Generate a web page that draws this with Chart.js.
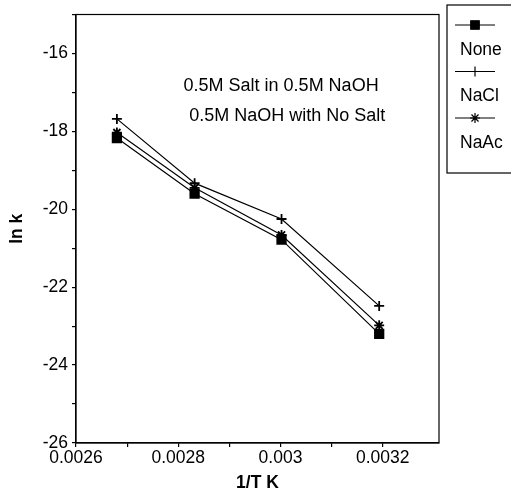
<!DOCTYPE html>
<html>
<head>
<meta charset="utf-8">
<script src="https://cdn.jsdelivr.net/npm/chart.js@4/dist/chart.umd.min.js"></script>
<style>
html,body{margin:0;padding:0;background:#fff;}
#wrap{width:511px;height:497px;position:relative;}
</style>
</head>
<body>
<div id="wrap"><canvas id="c" width="511" height="497"></canvas></div>
<script>
// Data
const invT = [0.00268, 0.002832, 0.003002, 0.003193];
const noneLnK = [-18.17, -19.6, -20.78, -23.2];
const naclLnK = [-17.68, -19.33, -20.25, -22.48];
const naacLnK = [-18.03, -19.45, -20.66, -22.98];
const seriesNames = ['None', 'NaCl', 'NaAc'];
const xTickValues = [0.0026, 0.0027, 0.0028, 0.0029, 0.003, 0.0031, 0.0032];
const xTickLabels = ['0.0026', '', '0.0028', '', '0.003', '', '0.0032'];
const yTickValues = [-26, -25, -24, -23, -22, -21, -20, -19, -18, -17, -16, -15];
const yTickLabels = ['-26', '', '-24', '', '-22', '', '-20', '', '-18', '', '-16', ''];
const annotationLines = ['0.5M Salt in 0.5M NaOH', '0.5M NaOH with No Salt'];

const FONT = 'Arial, "Liberation Sans", Helvetica, sans-serif';

function pts(ys){ return invT.map((x,i)=>({x:x, y:ys[i]})); }

const styles = [
  {pointStyle:'rect', radius:6},
  {pointStyle:'cross', radius:5},
  {pointStyle:'star', radius:5}
];
const series = [noneLnK, naclLnK, naacLnK];

const datasets = series.map((s,i)=>({
  label: seriesNames[i],
  data: pts(s),
  borderColor:'#000',
  backgroundColor:'#000',
  borderWidth:1.2,
  pointStyle: styles[i].pointStyle,
  pointRadius: styles[i].radius,
  pointBorderWidth: 1.8,
  pointBackgroundColor:'#000',
  pointBorderColor:'#000',
  showLine:true,
  tension:0
}));

const framePlugin = {
  id:'frame',
  afterDraw(chart){
    const ctx = chart.ctx, a = chart.chartArea;
    ctx.save();
    ctx.strokeStyle = '#000';
    ctx.lineWidth = 1.2;
    ctx.strokeRect(a.left, a.top, a.right - a.left, a.bottom - a.top);
    // annotation text
    ctx.fillStyle = '#000';
    ctx.font = '18px ' + FONT;
    ctx.textAlign = 'center';
    ctx.textBaseline = 'middle';
    const w = a.right - a.left, h = a.bottom - a.top;
    ctx.fillText(annotationLines[0], a.left + w*0.565, a.top + h*0.168);
    ctx.fillText(annotationLines[1], a.left + w*0.582, a.top + h*0.237);
    // legend
    const lx = 447, ly = 5, lw = 70, lh = 168;
    ctx.lineWidth = 1.2;
    ctx.strokeRect(lx, ly, lw, lh);
    ctx.textAlign = 'left';
    ctx.font = '17.5px ' + FONT;
    chart.data.datasets.forEach((ds,i)=>{
      const y = 25 + i*46.5;
      ctx.beginPath();
      ctx.moveTo(455, y); ctx.lineTo(495, y);
      ctx.lineWidth = 1.2;
      ctx.stroke();
      Chart.helpers.drawPoint(ctx, {pointStyle: ds.pointStyle, radius: ds.pointRadius, borderWidth: 1.8}, 475, y);
      if (ds.pointStyle === 'rect') { ctx.fill(); }
      ctx.fillText(ds.label, 460, y + 25);
    });
    ctx.restore();
  }
};

new Chart(document.getElementById('c'), {
  type:'scatter',
  data:{datasets},
  options:{
    responsive:false,
    animation:false,
    devicePixelRatio:1,
    layout:{padding:{top:7, right:72, left:0, bottom:0}},
    plugins:{legend:{display:false}, tooltip:{enabled:false}},
    scales:{
      x:{
        type:'linear',
        min:0.0026, max:0.00331,
        afterBuildTicks(scale){ scale.ticks = xTickValues.map(v=>({value:v})); },
        afterFit(scale){ scale.height = 54; },
        grid:{drawOnChartArea:false, tickLength:4, color:'#000', lineWidth:1.2},
        border:{color:'#000', width:1.2},
        ticks:{
          color:'#000', font:{family:FONT, size:17.5}, padding:1, maxRotation:0, autoSkip:false,
          callback(v, idx){ return xTickLabels[idx]; }
        },
        title:{display:true, text:'1/T K', color:'#000', font:{family:FONT, size:17.5, weight:'bold'}, padding:{top:0, bottom:3}}
      },
      y:{
        type:'linear',
        min:-26, max:-15,
        afterBuildTicks(scale){ scale.ticks = yTickValues.map(v=>({value:v})); },
        afterFit(scale){ scale.width = 76; },
        grid:{drawOnChartArea:false, tickLength:4, color:'#000', lineWidth:1.2},
        border:{color:'#000', width:1.2},
        ticks:{
          color:'#000', font:{family:FONT, size:17.5}, padding:4, autoSkip:false,
          callback(v, idx){ return yTickLabels[idx]; }
        },
        title:{display:true, text:'ln k', color:'#000', font:{family:FONT, size:17.5, weight:'bold'}, padding:{top:7, bottom:0}}
      }
    }
  },
  plugins:[framePlugin]
});
</script>
</body>
</html>
